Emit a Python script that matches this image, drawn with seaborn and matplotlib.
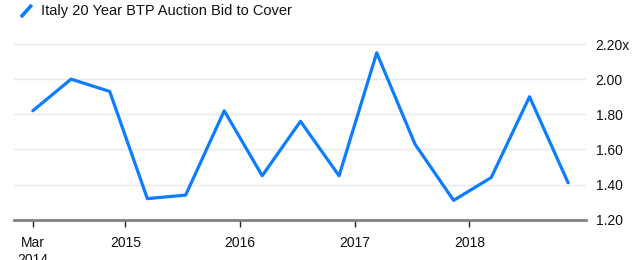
import matplotlib
matplotlib.use("Agg")
import matplotlib.pyplot as plt
import matplotlib.dates as mdates
from matplotlib.legend_handler import HandlerBase
from matplotlib.lines import Line2D
import seaborn as sns
import pandas as pd
import numpy as np

# ---- data ----
dates = ["2014-03-12", "2014-07-12", "2014-11-12", "2015-03-12", "2015-07-12",
         "2015-11-12", "2016-03-12", "2016-07-12", "2016-11-12", "2017-03-12",
         "2017-07-12", "2017-11-12", "2018-03-12", "2018-07-12", "2018-11-12"]
bid_to_cover = [1.82, 2.00, 1.93, 1.32, 1.34, 1.82, 1.45, 1.76, 1.45, 2.15,
                1.63, 1.31, 1.44, 1.90, 1.41]
series_name = "Italy 20 Year BTP Auction Bid to Cover"
x_ticks = ["2014-03-12", "2015-01-01", "2016-01-01", "2017-01-01", "2018-01-01"]
x_tick_labels = ["Mar\n2014", "2015", "2016", "2017", "2018"]
y_ticks = [1.20, 1.40, 1.60, 1.80, 2.00, 2.20]
y_tick_labels = ["1.20", "1.40", "1.60", "1.80", "2.00", "2.20x"]

df = pd.DataFrame({"date": pd.to_datetime(dates), "value": bid_to_cover})

sns.set_theme(style="white")
plt.rcParams["font.family"] = ["Liberation Sans", "DejaVu Sans"]

BLUE = "#0d7dff"

fig = plt.figure(figsize=(6.43, 2.60), dpi=100)
ax = fig.add_axes([14 / 643, 1 - 219.7 / 260, (586 - 14) / 643, (219.7 - 44) / 260])

sns.lineplot(data=df, x="date", y="value", ax=ax, color=BLUE, linewidth=2.3,
             label=series_name)

ax.set_ylim(1.20, 2.20)
ax.set_xlim(pd.Timestamp("2014-01-11"), pd.Timestamp("2019-01-08"))

ax.set_yticks(y_ticks)
ax.set_yticklabels(y_tick_labels)
ax.yaxis.tick_right()
ax.tick_params(axis="y", length=0, pad=7, labelsize=10, labelcolor="#111111")

ax.set_xticks(pd.to_datetime(x_ticks))
ax.set_xticklabels(x_tick_labels)
ax.tick_params(axis="x", direction="out", length=5, width=1, color="#222222",
               pad=7, labelsize=10, labelcolor="#111111", bottom=True)
for lbl in ax.get_xticklabels():
    lbl.set_verticalalignment("top")
    lbl.set_linespacing(1.25)

ax.grid(axis="y", color="#e8e8e8", linewidth=1)
ax.grid(axis="x", visible=False)
for s in ["top", "right", "left"]:
    ax.spines[s].set_visible(False)
ax.spines["bottom"].set_color("#808080")
ax.spines["bottom"].set_linewidth(2)
ax.set_xlabel("")
ax.set_ylabel("")


class DiagHandler(HandlerBase):
    def create_artists(self, legend, orig_handle, xdescent, ydescent, width,
                       height, fontsize, trans):
        x0 = -xdescent
        y0 = -ydescent
        line = Line2D([x0, x0 + width], [y0 - height * 0.15, y0 + height * 0.95],
                      color=orig_handle.get_color(), linewidth=2.6,
                      solid_capstyle="butt", transform=trans)
        return [line]


handles, labels = ax.get_legend_handles_labels()
leg = ax.legend(handles, labels, handler_map={type(handles[0]): DiagHandler()},
                loc="upper left", bbox_to_anchor=(18 / 643, 1 - 1 / 260),
                bbox_transform=fig.transFigure, frameon=False, fontsize=10.5,
                handlelength=0.75, handleheight=0.8, handletextpad=0.6,
                borderaxespad=0, borderpad=0.2)
for t in leg.get_texts():
    t.set_color("#111111")

fig.savefig("out.png", dpi=100)
